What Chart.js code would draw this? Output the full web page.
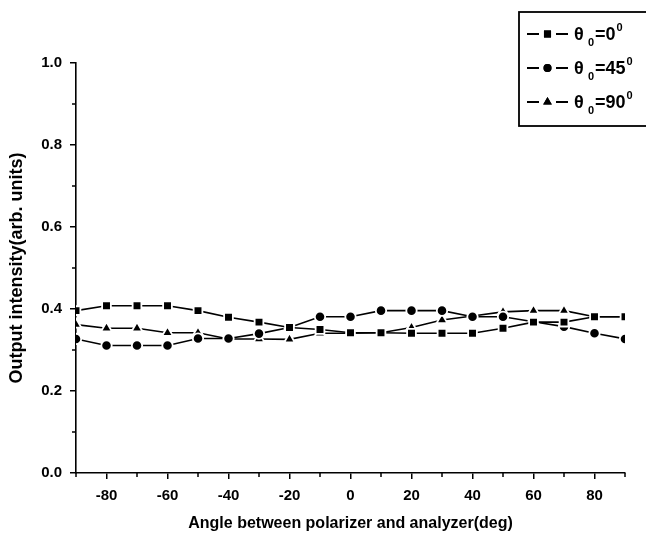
<!DOCTYPE html>
<html>
<head>
<meta charset="utf-8">
<script src="https://cdn.jsdelivr.net/npm/chart.js@4.4.1/dist/chart.umd.min.js"></script>
<style>
html,body{margin:0;padding:0;background:#fff;}
#wrap{width:646px;height:538px;}
</style>
</head>
<body>
<div id="wrap"><canvas id="c" width="646" height="538"></canvas></div>
<script>
const angles = [-90,-80,-70,-60,-50,-40,-30,-20,-10,0,10,20,30,40,50,60,70,80,90];
const theta0 = [0.396,0.408,0.408,0.408,0.396,0.380,0.368,0.355,0.350,0.342,0.342,0.341,0.341,0.341,0.353,0.368,0.368,0.381,0.381];
const theta45 = [0.327,0.311,0.311,0.311,0.328,0.328,0.340,0.355,0.381,0.381,0.396,0.396,0.396,0.381,0.381,0.369,0.357,0.341,0.327];
const theta90 = [0.362,0.353,0.353,0.342,0.342,0.327,0.327,0.326,0.341,0.341,0.342,0.355,0.373,0.383,0.393,0.396,0.396,0.381,0.381];
const seriesNames = ['0','45','90'];
const xMajorTicks = [-80,-60,-40,-20,0,20,40,60,80];
const xMinorTicks = [-90,-70,-50,-30,-10,10,30,50,70,90];
const yMajorTicks = [0.0,0.2,0.4,0.6,0.8,1.0];
const yMinorTicks = [0.1,0.3,0.5,0.7,0.9];

const FONT = "'Liberation Sans', Arial, sans-serif";
const styles = [
  {pointStyle:'rect', radius:6.2},
  {pointStyle:'circle', radius:5.2},
  {pointStyle:'triangle', radius:6.2}
];
const seriesData = [theta0, theta45, theta90];

const datasets = seriesData.map((arr,i)=>({
  label: 'θ0=' + seriesNames[i],
  data: angles.map((a,j)=>({x:a, y:arr[j]})),
  borderColor:'#000',
  borderWidth:1.6,
  backgroundColor:'#000',
  pointBackgroundColor:'#000',
  pointBorderColor:'#fff',
  pointBorderWidth:1.8,
  pointStyle: styles[i].pointStyle,
  pointRadius: styles[i].radius,
  pointHoverRadius: styles[i].radius,
  tension:0,
  fill:false
}));

const extras = {
  id:'extras',
  afterDraw(chart){
    const ctx = chart.ctx;
    const xs = chart.scales.x, ys = chart.scales.y;
    ctx.save();
    ctx.strokeStyle = '#000';
    ctx.lineWidth = 1.5;
    // minor ticks
    ctx.beginPath();
    xMinorTicks.forEach(v=>{
      const px = xs.getPixelForValue(v);
      ctx.moveTo(px, xs.top); ctx.lineTo(px, xs.top+4);
    });
    yMinorTicks.forEach(v=>{
      const py = ys.getPixelForValue(v);
      ctx.moveTo(ys.right, py); ctx.lineTo(ys.right-4, py);
    });
    ctx.stroke();

    // legend
    const bx = 519, by = 12, bw = 140, bh = 114;
    ctx.lineWidth = 1.8;
    ctx.strokeRect(bx, by, bw, bh);
    const rows = [34, 68, 102];
    rows.forEach((ry,i)=>{
      ctx.lineWidth = 1.8;
      ctx.beginPath();
      ctx.moveTo(527, ry); ctx.lineTo(539, ry);
      ctx.moveTo(556, ry); ctx.lineTo(568, ry);
      ctx.stroke();
      ctx.fillStyle = '#000';
      Chart.helpers.drawPoint(ctx, {pointStyle: styles[i].pointStyle, radius: styles[i].radius-1.2, rotation:0, borderWidth:0}, 547.5, ry);
      ctx.fill();
      ctx.textBaseline = 'alphabetic';
      ctx.textAlign = 'left';
      ctx.font = 'bold 18px ' + FONT;
      ctx.fillText('θ', 574, ry+6);
      ctx.font = 'bold 11px ' + FONT;
      ctx.fillText('0', 588, ry+12);
      ctx.font = 'bold 18px ' + FONT;
      const t = '=' + seriesNames[i];
      ctx.fillText(t, 595, ry+6);
      const w = ctx.measureText(t).width;
      ctx.font = 'bold 11px ' + FONT;
      ctx.fillText('0', 595 + w + 1, ry-3);
    });
    ctx.restore();
  }
};

new Chart(document.getElementById('c'), {
  type:'line',
  data:{datasets},
  options:{
    responsive:false,
    animation:false,
    layout:{padding:{top:63, right:21, left:0, bottom:0}},
    plugins:{legend:{display:false}, tooltip:{enabled:false}},
    scales:{
      x:{
        type:'linear', min:-90, max:90,
        afterBuildTicks(s){ s.ticks = xMajorTicks.map(v=>({value:v})); },
        afterFit(s){ s.height = 65; },
        border:{display:true, color:'#000', width:1.6},
        grid:{display:true, drawOnChartArea:false, drawTicks:true, tickLength:6, color:'#000', lineWidth:1.5},
        ticks:{color:'#000', padding:8, font:{family:FONT, size:15, weight:'bold'}, maxRotation:0, autoSkip:false,
          callback:(v)=>String(v)},
        title:{display:true, text:'Angle between polarizer and analyzer(deg)', color:'#000',
          font:{family:FONT, size:16, weight:'bold'}, padding:{top:0,bottom:5}}
      },
      y:{
        type:'linear', min:0, max:1,
        afterBuildTicks(s){ s.ticks = yMajorTicks.map(v=>({value:v})); },
        afterFit(s){ s.width = 76; },
        border:{display:true, color:'#000', width:1.6},
        grid:{display:true, drawOnChartArea:false, drawTicks:true, tickLength:6, color:'#000', lineWidth:1.5},
        ticks:{color:'#000', padding:8, font:{family:FONT, size:15, weight:'bold'}, autoSkip:false,
          callback:(v)=>Number(v).toFixed(1)},
        title:{display:true, text:'Output intensity(arb. units)', color:'#000',
          font:{family:FONT, size:18, weight:'bold'}, padding:{top:6,bottom:0}}
      }
    }
  },
  plugins:[extras]
});
</script>
</body>
</html>
